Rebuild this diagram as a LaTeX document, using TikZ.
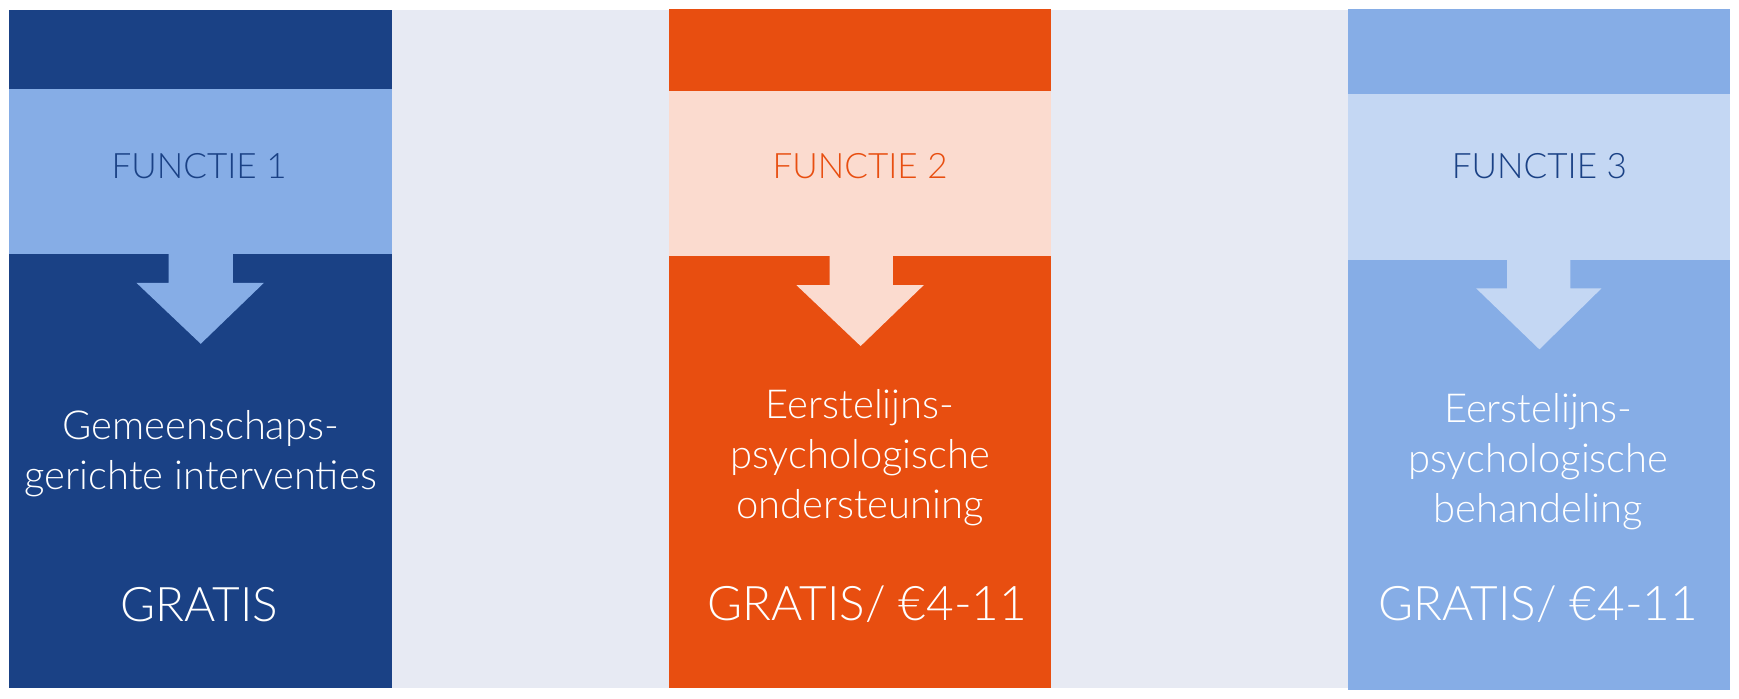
\documentclass[tikz,border=0pt]{standalone}
\usepackage{fontspec}
\setmainfont{Lato}[UprightFont={* Light}]
\definecolor{dblue}{HTML}{1A4185}
\definecolor{mblue}{HTML}{86ADE6}
\definecolor{lblue}{HTML}{C4D7F3}
\definecolor{orng}{HTML}{E84E10}
\definecolor{peach}{HTML}{FBDBCF}
\definecolor{greybg}{HTML}{E7EAF3}
\tikzset{
  head/.style={font=\fontsize{15.8}{20}\selectfont, anchor=center},
  body/.style={font=\fontsize{18}{22.5}\selectfont, text=white, align=center, anchor=center},
  price/.style={font=\fontsize{21.5}{24}\selectfont, text=white, anchor=center},
}
\begin{document}
\begin{tikzpicture}[x=0.5pt,y=-0.5pt]
\useasboundingbox[fill=white] (0,0) rectangle (1568,629.4);
\fill[greybg] (8,9) rectangle (1560,620);
% column 1
\fill[dblue] (8,9) rectangle (353,620);
\fill[mblue] (8,80) rectangle (353,229);
\fill[mblue] (152,228) -- (152,255) -- (123,255) -- (181,310) -- (238,255) -- (210,255) -- (210,228) -- cycle;
\node[head, text=dblue] (f1) at (179.5,150) {FUNCTIE 1};
\node[body] (t1) at (181,409) {Gemeenschaps-\\gerichte interventies};
\node[price] (p1) at (180,545) {GRATIS};
% column 2
\fill[orng] (603,8) rectangle (948,620);
\fill[peach] (603,82) rectangle (948,231);
\fill[peach] (748,230) -- (748,257) -- (718,257) -- (776,312) -- (833,257) -- (805,257) -- (805,230) -- cycle;
\node[head, text=orng] (f2) at (775.5,150) {FUNCTIE 2};
\node[body] (t2) at (775.5,413) {Eerstelijns-\\psychologische\\ondersteuning};
\node[price] (p2) at (782,545) {GRATIS/ €4-11};
% column 3
\fill[mblue] (1215,8) rectangle (1560,622);
\fill[lblue] (1215,85) rectangle (1560,234);
\fill[lblue] (1359,233) -- (1359,260) -- (1331,260) -- (1388,315) -- (1444,260) -- (1416,260) -- (1416,233) -- cycle;
\node[head, text=dblue] (f3) at (1388,150) {FUNCTIE 3};
\node[body] (t3) at (1387,416) {Eerstelijns-\\psychologische\\behandeling};
\node[price] (p3) at (1387,545) {GRATIS/ €4-11};
\end{tikzpicture}
\end{document}
